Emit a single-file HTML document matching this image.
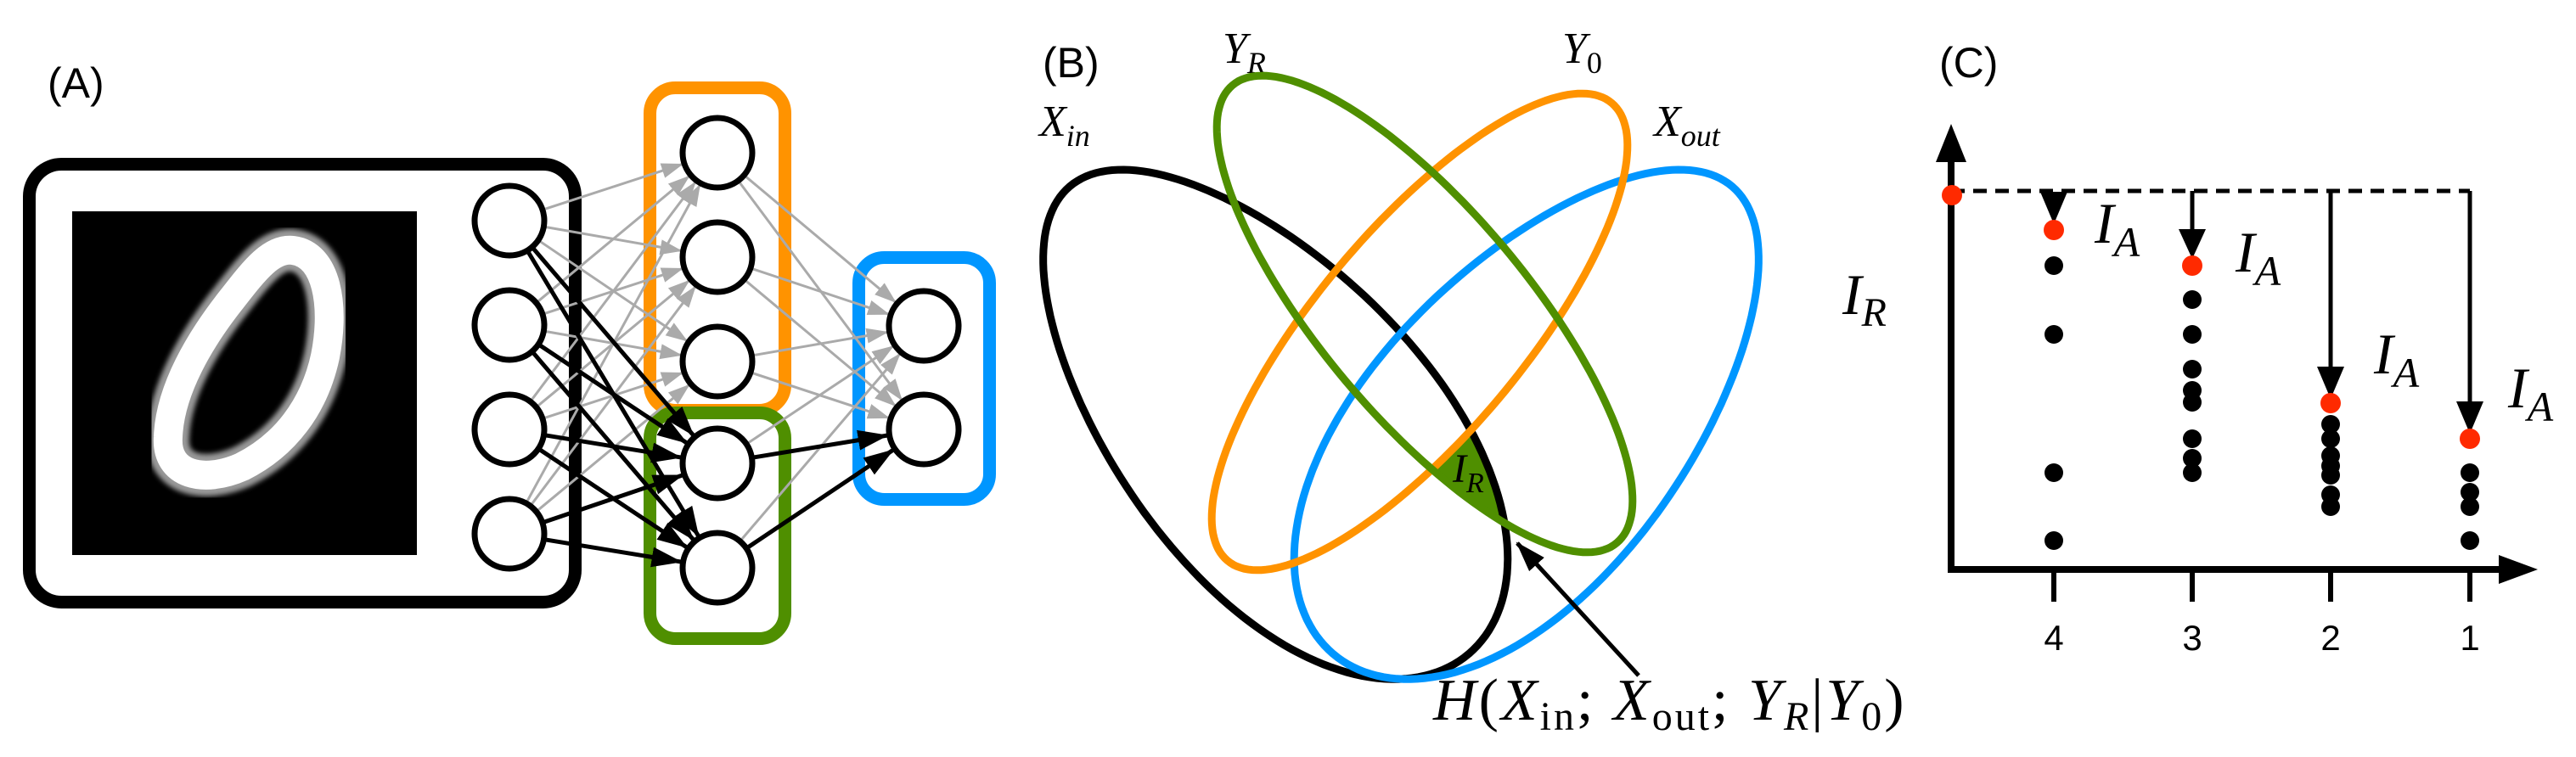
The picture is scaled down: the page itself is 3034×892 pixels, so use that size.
<!DOCTYPE html>
<html><head><meta charset="utf-8"><style>
html,body{margin:0;padding:0;background:#fff;}
svg{display:block;}
.s{font-family:"Liberation Sans",sans-serif;}
.m{font-family:"Liberation Serif",serif;font-style:italic;}
.r{font-family:"Liberation Serif",serif;}
</style></head><body>
<svg id="svg" width="3034" height="892" viewBox="0 0 3034 892" xmlns="http://www.w3.org/2000/svg">
<defs>
<marker id="ag" markerUnits="userSpaceOnUse" markerWidth="26" markerHeight="20" refX="24" refY="10" orient="auto"><path d="M0,1 L26,10 L0,19 Z" fill="#aaa"/></marker>
<marker id="ab" markerUnits="userSpaceOnUse" markerWidth="36" markerHeight="26" refX="34" refY="13" orient="auto"><path d="M0,1 L36,13 L0,25 Z" fill="#000"/></marker>
<filter id="bl"><feGaussianBlur stdDeviation="3"/></filter>
<clipPath id="cBlack"><path id="pcBlack" d=""/></clipPath>
<clipPath id="cGreen"><path id="pcGreen" d=""/></clipPath>
<mask id="mNotOrange"><rect x="0" y="0" width="3034" height="892" fill="#fff"/><path id="pmOrange" d="" fill="#000"/></mask>
</defs>
<!-- Panel A -->
<text x="56" y="115" class="s" font-size="50">(A)</text>
<rect x="34.5" y="193.5" width="643" height="516" rx="38" fill="none" stroke="#000" stroke-width="15"/>
<rect x="85" y="249" width="406" height="405" fill="#000"/>
<path d="M345,295 C385,300 395,360 383,420 C370,480 335,525 285,550 C240,570 195,560 198,515 C200,460 235,400 275,350 C300,318 320,292 345,295 Z" fill="none" stroke="#999" stroke-width="50" filter="url(#bl)"/>
<path d="M345,295 C385,300 395,360 383,420 C370,480 335,525 285,550 C240,570 195,560 198,515 C200,460 235,400 275,350 C300,318 320,292 345,295 Z" fill="none" stroke="#fff" stroke-width="34"/>
<rect x="765.5" y="103.5" width="159" height="380" rx="30" fill="none" stroke="#ff9300" stroke-width="15"/>
<rect x="765.5" y="486.5" width="159" height="266" rx="30" fill="none" stroke="#4f8f00" stroke-width="15"/>
<rect x="1011.5" y="303.5" width="154" height="285" rx="30" fill="none" stroke="#0096ff" stroke-width="15"/>
<g id="edges"></g>
<g id="nodes" fill="#fff" stroke="#000" stroke-width="7"></g>

<!-- Panel B -->
<text x="1228" y="91" class="s" font-size="50">(B)</text>
<text x="1440" y="74" class="m" font-size="52">Y<tspan font-size="36" dy="12">R</tspan></text>
<text x="1840" y="74" class="m" font-size="52">Y<tspan font-size="36" dy="12" class="r" font-style="normal">0</tspan></text>
<text x="1224" y="160" class="m" font-size="52">X<tspan font-size="36" dy="12">in</tspan></text>
<text x="1948" y="160" class="m" font-size="52">X<tspan font-size="36" dy="12">out</tspan></text>
<g clip-path="url(#cBlack)"><g clip-path="url(#cGreen)"><rect x="1640" y="470" width="180" height="180" fill="#4f8f00" mask="url(#mNotOrange)"/></g></g>
<g fill="none" stroke-width="9">
<path id="eBlack" d="" stroke="#000"/>
<path id="eBlue" d="" stroke="#0096ff"/>
<path id="eOrange" d="" stroke="#ff9300"/>
<path id="eGreen" d="" stroke="#4f8f00"/>
</g>
<text x="1711" y="568" class="m" font-size="48">I<tspan font-size="34" dy="12">R</tspan></text>
<line x1="1930" y1="796" x2="1787" y2="640" stroke="#000" stroke-width="5" marker-end="url(#ab)"/>
<text x="1688" y="848" class="m" font-size="70" letter-spacing="3">H<tspan class="r" font-style="normal">(</tspan>X<tspan class="r" font-style="normal" font-size="48" dy="12">in</tspan><tspan class="r" font-style="normal" dy="-12">;</tspan> X<tspan class="r" font-style="normal" font-size="48" dy="12">out</tspan><tspan class="r" font-style="normal" dy="-12">;</tspan> Y<tspan font-size="48" dy="12">R</tspan><tspan class="r" font-style="normal" dy="-12">|</tspan>Y<tspan class="r" font-style="normal" font-size="48" dy="12">0</tspan><tspan class="r" font-style="normal" dy="-12">)</tspan></text>

<!-- Panel C -->
<text x="2284" y="91" class="s" font-size="50">(C)</text>
<text x="2170" y="370" class="m" font-size="68">I<tspan font-size="48" dy="14">R</tspan></text>
<line x1="2298" y1="185" x2="2298" y2="674" stroke="#000" stroke-width="8"/>
<path d="M2280,191 L2298,146 L2316,191 Z" fill="#000"/>
<line x1="2294" y1="671" x2="2945" y2="671" stroke="#000" stroke-width="8"/>
<path d="M2943,654 L2989,671 L2943,688 Z" fill="#000"/>
<g stroke="#000" stroke-width="6">
<line x1="2419" y1="671" x2="2419" y2="709"/><line x1="2582" y1="671" x2="2582" y2="709"/>
<line x1="2745" y1="671" x2="2745" y2="709"/><line x1="2909" y1="671" x2="2909" y2="709"/>
</g>
<g class="s" font-size="42" text-anchor="middle">
<text x="2419" y="766">4</text><text x="2582" y="766">3</text><text x="2745" y="766">2</text><text x="2909" y="766">1</text>
</g>
<line x1="2298" y1="225" x2="2909" y2="225" stroke="#000" stroke-width="5" stroke-dasharray="16,10"/>
<g stroke="#000" stroke-width="5">
<line x1="2582" y1="225" x2="2582" y2="275"/>
<line x1="2745" y1="225" x2="2745" y2="437"/>
<line x1="2909" y1="225" x2="2909" y2="478"/>
</g>
<g fill="#000">
<path d="M2403,226 L2435,226 L2419,264 Z"/>
<path d="M2566,270 L2598,270 L2582,305 Z"/>
<path d="M2729,432 L2761,432 L2745,470 Z"/>
<path d="M2893,473 L2925,473 L2909,511 Z"/>
</g>
<g fill="#000">
<circle cx="2419" cy="313" r="11"/><circle cx="2419" cy="394" r="11"/><circle cx="2419" cy="557" r="11"/><circle cx="2419" cy="637" r="11"/>
<circle cx="2582" cy="353" r="11"/><circle cx="2582" cy="394" r="11"/><circle cx="2582" cy="435" r="11"/><circle cx="2582" cy="460" r="11"/><circle cx="2582" cy="474" r="11"/><circle cx="2582" cy="517" r="11"/><circle cx="2582" cy="540" r="11"/><circle cx="2582" cy="557" r="11"/>
<circle cx="2745" cy="500" r="11"/><circle cx="2745" cy="517" r="11"/><circle cx="2745" cy="537" r="11"/><circle cx="2745" cy="549" r="11"/><circle cx="2745" cy="560" r="11"/><circle cx="2745" cy="583" r="11"/><circle cx="2745" cy="597" r="11"/>
<circle cx="2909" cy="557" r="11"/><circle cx="2909" cy="580" r="11"/><circle cx="2909" cy="597" r="11"/><circle cx="2909" cy="637" r="11"/>
</g>
<g fill="#ff2a00">
<circle cx="2299" cy="230" r="12"/><circle cx="2419" cy="271" r="12"/><circle cx="2582" cy="313" r="12"/><circle cx="2745" cy="475" r="12"/><circle cx="2909" cy="517" r="12"/>
</g>
<g class="m" font-size="68">
<text x="2467" y="286">I<tspan font-size="50" dy="16">A</tspan></text>
<text x="2633" y="320">I<tspan font-size="50" dy="16">A</tspan></text>
<text x="2796" y="440">I<tspan font-size="50" dy="16">A</tspan></text>
<text x="2954" y="480">I<tspan font-size="50" dy="16">A</tspan></text>
</g>
</svg>
<script>
(function(){
var NS="http://www.w3.org/2000/svg";
function egg(cx,cy,a,b,k,deg,mirror){
 var th=deg*Math.PI/180,c=Math.cos(th),s=Math.sin(th),d="";
 for(var i=0;i<=180;i++){
  var t=i/180*2*Math.PI,u=a*Math.cos(t),v=b*Math.sin(t)*(1+k*Math.cos(t));
  var x=cx+u*c-v*s,y=cy+u*s+v*c;
  if(mirror)x=3300-x;
  d+=(i?"L":"M")+x.toFixed(1)+","+y.toFixed(1);
 }
 return d+"Z";
}
function set(id,d){document.getElementById(id).setAttribute("d",d);}
var db=egg(1495,495,362,183.6,0.118,49.5,false);
var dbl=egg(1495,495,362,183.6,0.118,49.5,true);
var dg=egg(1678,370,352,122,0,50,false);
var dO=egg(1672,391,352,122,0,-50,false);
set("pcBlack",db);set("pcGreen",dg);set("pmOrange",dO);
set("eBlack",db);set("eBlue",dbl);set("eOrange",dO);set("eGreen",dg);

var inp=[[600,260],[600,383],[600,506],[600,629]];
var org=[[845,180],[845,303],[845,426]];
var grn=[[845,546],[845,669]];
var out=[[1088,384],[1088,506]];
var E=document.getElementById("edges"),N=document.getElementById("nodes");
function edge(a,b,bl){
 var dx=b[0]-a[0],dy=b[1]-a[1],L=Math.sqrt(dx*dx+dy*dy),ux=dx/L,uy=dy/L,r=44;
 var l=document.createElementNS(NS,"line");
 l.setAttribute("x1",a[0]+ux*r);l.setAttribute("y1",a[1]+uy*r);
 l.setAttribute("x2",b[0]-ux*r);l.setAttribute("y2",b[1]-uy*r);
 l.setAttribute("stroke",bl?"#000":"#aaa");
 l.setAttribute("stroke-width",bl?5:3);
 l.setAttribute("marker-end",bl?"url(#ab)":"url(#ag)");
 E.appendChild(l);
}
inp.forEach(function(a){org.forEach(function(b){edge(a,b,false);});});
org.forEach(function(a){out.forEach(function(b){edge(a,b,false);});});
grn.forEach(function(a){edge(a,out[0],false);});
inp.forEach(function(a){grn.forEach(function(b){edge(a,b,true);});});
grn.forEach(function(a){edge(a,out[1],true);});
inp.concat(org,grn,out).forEach(function(p){
 var c=document.createElementNS(NS,"circle");
 c.setAttribute("cx",p[0]);c.setAttribute("cy",p[1]);c.setAttribute("r",41);
 N.appendChild(c);
});
})();
</script>
</body></html>
